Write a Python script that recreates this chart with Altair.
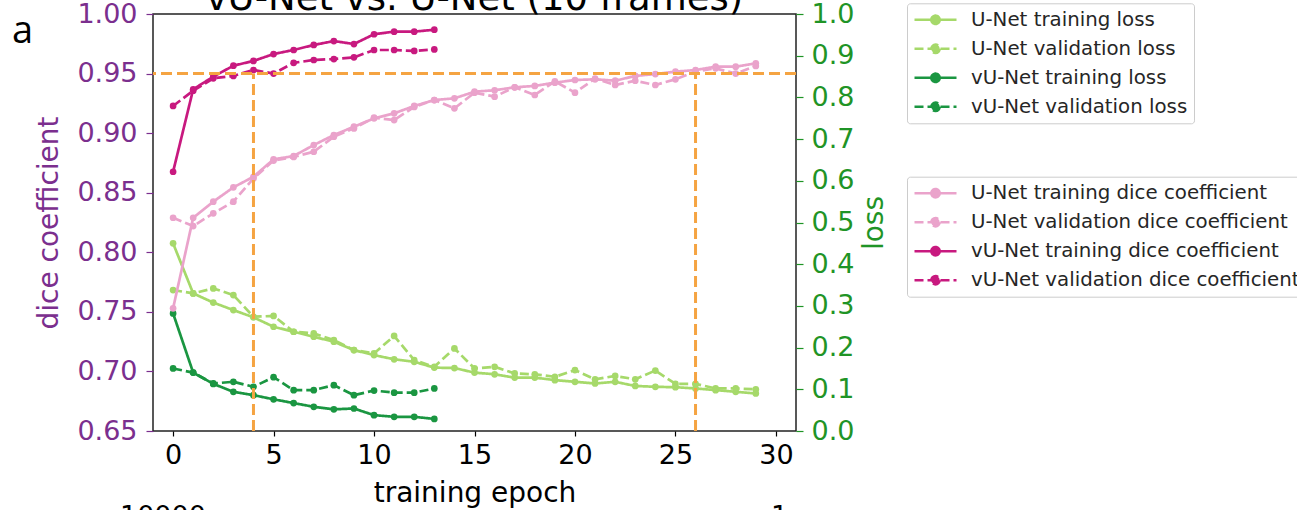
import altair as alt
import pandas as pd

# ---------------- data ----------------
epochs_unet = list(range(30))
epochs_vunet = list(range(14))

unet_train_dice = [0.753, 0.829, 0.8425, 0.8545, 0.8634, 0.878, 0.8808, 0.890, 0.8984, 0.9054,
                   0.9124, 0.9166, 0.9228, 0.9278, 0.9292, 0.9348, 0.936, 0.9385, 0.9396, 0.9424,
                   0.9446, 0.9452, 0.9440, 0.948, 0.9496, 0.9516, 0.953, 0.9558, 0.9558, 0.9586]
unet_val_dice = [0.829, 0.822, 0.8327, 0.8425, 0.862, 0.877, 0.880, 0.8844, 0.897, 0.904,
                 0.913, 0.911, 0.922, 0.9278, 0.9208, 0.934, 0.9306, 0.9385, 0.932, 0.9435,
                 0.934, 0.9458, 0.9404, 0.944, 0.9404, 0.9452, 0.9516, 0.9544, 0.950, 0.9564]
vunet_train_dice = [0.8676, 0.9368, 0.9474, 0.9566, 0.9606, 0.9664, 0.9698, 0.974, 0.9773, 0.9748,
                    0.983, 0.9852, 0.9852, 0.9868]
vunet_val_dice = [0.9228, 0.9356, 0.946, 0.948, 0.953, 0.950, 0.959, 0.9614, 0.9622, 0.9636,
                  0.9698, 0.9698, 0.969, 0.9703]

unet_train_loss = [0.450, 0.330, 0.308, 0.290, 0.2726, 0.250, 0.238, 0.226, 0.214, 0.194,
                   0.182, 0.172, 0.166, 0.152, 0.151, 0.140, 0.136, 0.128, 0.128, 0.122,
                   0.118, 0.114, 0.118, 0.108, 0.106, 0.105, 0.102, 0.098, 0.094, 0.090]
unet_val_loss = [0.338, 0.330, 0.342, 0.326, 0.274, 0.276, 0.238, 0.234, 0.218, 0.194,
                 0.186, 0.228, 0.170, 0.154, 0.198, 0.150, 0.154, 0.138, 0.136, 0.130,
                 0.146, 0.124, 0.132, 0.124, 0.145, 0.113, 0.113, 0.102, 0.102, 0.100]
vunet_train_loss = [0.282, 0.140, 0.113, 0.094, 0.086, 0.076, 0.067, 0.058, 0.052, 0.054,
                    0.038, 0.034, 0.034, 0.029]
vunet_val_loss = [0.150, 0.140, 0.114, 0.118, 0.106, 0.129, 0.098, 0.098, 0.110, 0.086,
                  0.097, 0.092, 0.092, 0.102]

loss_names = ["U-Net training loss", "U-Net validation loss",
              "vU-Net training loss", "vU-Net validation loss"]
dice_names = ["U-Net training dice coefficient", "U-Net validation dice coefficient",
              "vU-Net training dice coefficient", "vU-Net validation dice coefficient"]

threshold = 0.95
epochs_reached = [4, 26]
dice_min, dice_max = 0.65, 1.00
x_ticks = [0, 5, 10, 15, 20, 25, 30]
dice_ticks = [0.65, 0.70, 0.75, 0.80, 0.85, 0.90, 0.95, 1.00]
loss_ticks = [0.0, 0.1, 0.2, 0.3, 0.4, 0.5, 0.6, 0.7, 0.8, 0.9, 1.0]

title_text = "vU-Net vs. U-Net (10 frames)"
panel_letter = "a"

# ---------------- styles ----------------
loss_colors = ["#a6d96a", "#a6d96a", "#1a9641", "#1a9641"]
dice_colors = ["#eaa3cb", "#eaa3cb", "#c8197f", "#c8197f"]
dashes = [[1, 0], [9, 4], [1, 0], [9, 4]]
purple = "#7b2f8e"
green = "#1f9426"
orange = "#f5a442"
FONT = "DejaVu Sans"

def long_df(names, epochs_list, values_list, col):
    rows = []
    for n, ep, vals in zip(names, epochs_list, values_list):
        for e, v in zip(ep, vals):
            rows.append({"epoch": e, col: v, "series": n})
    return pd.DataFrame(rows)

loss_df = long_df(loss_names, [epochs_unet, epochs_unet, epochs_vunet, epochs_vunet],
                  [unet_train_loss, unet_val_loss, vunet_train_loss, vunet_val_loss], "loss")
dice_df = long_df(dice_names, [epochs_unet, epochs_unet, epochs_vunet, epochs_vunet],
                  [unet_train_dice, unet_val_dice, vunet_train_dice, vunet_val_dice], "dice")

x_enc = alt.X("epoch:Q",
              scale=alt.Scale(domain=[-1, 31], nice=False, zero=False),
              axis=alt.Axis(values=x_ticks, title="training epoch", format="d",
                            labelFontSize=27, titleFontSize=28, labelColor="black",
                            titleColor="black", tickColor="black", tickSize=5,
                            labelPadding=6, titlePadding=11, tickWidth=1.2))

y_loss = alt.Y("loss:Q", scale=alt.Scale(domain=[0, 1], nice=False, zero=False),
               axis=alt.Axis(orient="right", values=loss_ticks, format=".1f", title="loss",
                             labelColor=green, titleColor=green, tickColor=green,
                             labelFontSize=27, titleFontSize=28, tickSize=7,
                             labelPadding=8, titlePadding=7, titleAngle=270,
                             titleBaseline="top", tickWidth=1.2))

y_dice = alt.Y("dice:Q", scale=alt.Scale(domain=[dice_min, dice_max], nice=False, zero=False),
               axis=alt.Axis(orient="left", values=dice_ticks, format=".2f",
                             title="dice coefficient",
                             labelColor=purple, titleColor=purple, tickColor=purple,
                             labelFontSize=27, titleFontSize=28, tickSize=7,
                             labelPadding=9, titlePadding=13, tickWidth=1.2))

sym_path = "M-1,0H1M0.2,0A0.2,0.2,0,1,1,-0.2,0A0.2,0.2,0,1,1,0.2,0Z"

def make_legend(ly):
    return alt.Legend(orient="none", legendX=754, legendY=ly, title=None,
                      symbolType=sym_path, symbolSize=1764, symbolStrokeWidth=2.5,
                      labelFont=FONT, labelFontSize=19.8, labelColor="#262626",
                      labelOffset=13, padding=6, clipHeight=21, rowPadding=8,
                      strokeColor="#cccccc", fillColor="white", cornerRadius=3,
                      labelLimit=600, direction="vertical")

loss_chart = alt.Chart(loss_df).mark_line(
    strokeWidth=2.7, point=alt.OverlayMarkDef(filled=True, size=45)
).encode(
    x=x_enc, y=y_loss,
    color=alt.Color("series:N", scale=alt.Scale(domain=loss_names, range=loss_colors),
                    legend=make_legend(-10.7)),
    strokeDash=alt.StrokeDash("series:N", scale=alt.Scale(domain=loss_names, range=dashes),
                              legend=make_legend(-10.7)),
)

dice_lines = alt.Chart(dice_df).mark_line(
    strokeWidth=2.7, point=alt.OverlayMarkDef(filled=True, size=45)
).encode(
    x=x_enc, y=y_dice,
    color=alt.Color("series:N", scale=alt.Scale(domain=dice_names, range=dice_colors),
                    legend=make_legend(162.7)),
    strokeDash=alt.StrokeDash("series:N", scale=alt.Scale(domain=dice_names, range=dashes),
                              legend=make_legend(162.7)),
)

ref_h = alt.Chart(pd.DataFrame({"dice": [threshold]})).mark_rule(
    color=orange, strokeWidth=3, strokeDash=[11, 5]
).encode(y=y_dice)

ref_v = alt.Chart(pd.DataFrame({"epoch": epochs_reached,
                                "dice": [dice_min] * len(epochs_reached),
                                "dice_end": [threshold] * len(epochs_reached)})).mark_rule(
    color=orange, strokeWidth=3, strokeDash=[11, 5]
).encode(x=x_enc, y=y_dice, y2="dice_end:Q")

dice_group = alt.layer(dice_lines, ref_h, ref_v)

title_mark = alt.Chart(pd.DataFrame({"t": [title_text]})).mark_text(
    font=FONT, fontSize=37, color="black", align="center", baseline="alphabetic"
).encode(text="t:N", x=alt.value(321.5), y=alt.value(-4.5))

letter_mark = alt.Chart(pd.DataFrame({"t": [panel_letter]})).mark_text(
    font="Open Sans", fontSize=38, color="black", align="left", baseline="alphabetic"
).encode(text="t:N", x=alt.value(-141), y=alt.value(28.7))

bottom_mark = alt.Chart(pd.DataFrame({"t": ["10000", "1"], "px": [-33, 618]})).mark_text(
    font=FONT, fontSize=27, color="black", align="left", baseline="alphabetic"
).encode(text="t:N", x=alt.X("px:Q", scale=None), y=alt.value(511))

chart = alt.layer(loss_chart, dice_group, title_mark, letter_mark, bottom_mark).resolve_scale(
    y="independent", color="independent", strokeDash="independent"
).properties(
    width=643, height=417,
    padding={"left": 153, "top": 14, "right": 501, "bottom": 79},
    autosize=alt.AutoSizeParams(type="none"),
    background="white",
).configure_view(
    stroke="#222222", strokeWidth=1.5
).configure_axis(
    grid=False, domain=False, labelFont=FONT, titleFont=FONT, titleFontWeight="normal"
)

chart.save("out.html", embed_options={"renderer": "svg", "actions": False})
